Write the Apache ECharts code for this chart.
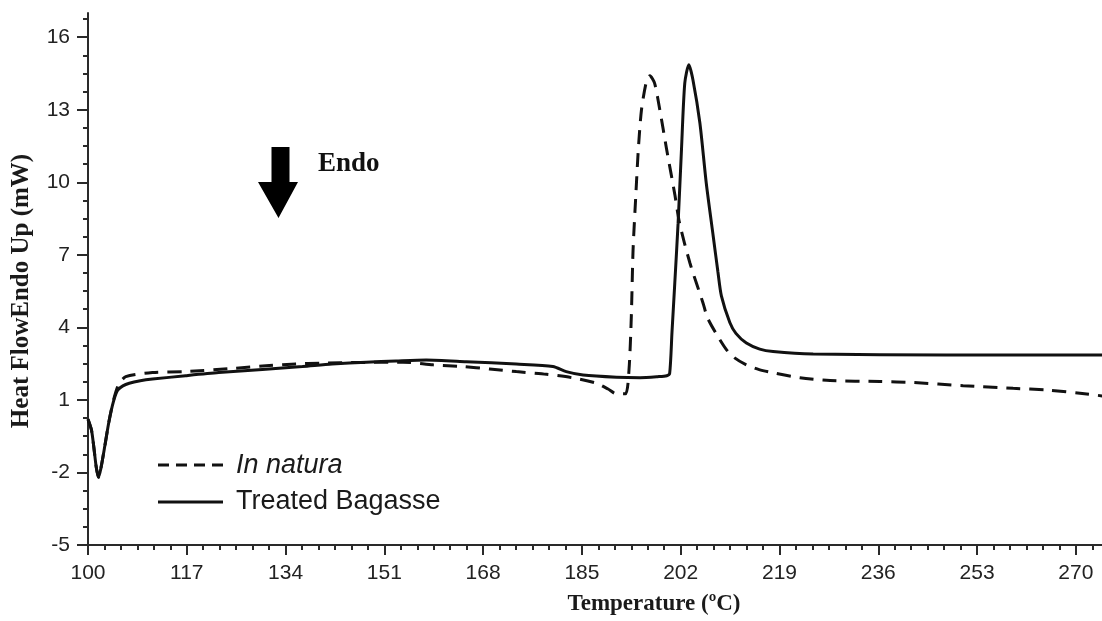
<!DOCTYPE html>
<html>
<head>
<meta charset="utf-8">
<script src="https://cdn.jsdelivr.net/npm/echarts@6/dist/echarts.min.js"></script>
<style>
  html, body { margin: 0; padding: 0; background: #ffffff; }
  #chart { width: 1102px; height: 621px; }
</style>
</head>
<body>
<div id="chart"></div>
<script>
// Axis ticks
const temperatureTicks = [100, 117, 134, 151, 168, 185, 202, 219, 236, 253, 270];
const heatFlowTicks = [-5, -2, 1, 4, 7, 10, 13, 16];

// Legend entries
const seriesNames = ['In natura', 'Treated Bagasse'];

// DSC curves: [temperature (ºC), heat flow (mW)]
const inNatura = [
  [100, 0.2], [100.6, -0.25], [101.0, -0.95], [101.4, -1.75], [101.8, -2.2], [102.2, -1.85],
  [102.9, -0.9], [103.6, 0.1], [104.4, 1.0], [105.2, 1.6], [106.5, 1.96], [111.1, 2.13],
  [116.8, 2.17], [125.4, 2.31], [131.2, 2.42], [135.75, 2.49], [139.9, 2.52], [147, 2.55],
  [154.2, 2.56], [159.4, 2.45], [164.5, 2.38], [169.1, 2.28], [173.7, 2.17], [178.9, 2.06],
  [183.2, 1.92], [187.5, 1.69], [189.5, 1.45], [190.95, 1.25], [192.5, 1.25], [193.1, 2.24],
  [193.5, 4.45], [193.8, 7.2], [194.3, 9.58], [194.7, 11.34], [195.25, 13.0], [196.1, 14.17],
  [196.7, 14.4], [197.5, 14.1], [198.4, 13.0], [199.55, 11.4], [200.98, 9.5], [201.8, 8.31],
  [203.6, 6.65], [205.85, 5.0], [206.6, 4.4], [208.2, 3.7], [209.8, 3.1], [211.2, 2.75],
  [213.3, 2.45], [215.5, 2.25], [217.9, 2.12], [222.5, 1.92], [227.7, 1.8], [236.3, 1.76],
  [242, 1.72], [250.6, 1.59], [259.2, 1.48], [265, 1.41], [270.7, 1.28], [275, 1.15]
];

const treatedBagasse = [
  [100, 0.2], [100.6, -0.25], [101.0, -0.95], [101.4, -1.75], [101.8, -2.2], [102.2, -1.85],
  [102.9, -0.9], [103.6, 0.1], [104.4, 0.95], [105.1, 1.4], [106, 1.58], [107.1, 1.69],
  [109, 1.79], [111.1, 1.86], [116.8, 2.0], [122.5, 2.13], [130, 2.26], [136.9, 2.38],
  [142, 2.48], [147.9, 2.56], [153, 2.61], [158.2, 2.65], [165.1, 2.58], [173.7, 2.48],
  [180.0, 2.38], [182.3, 2.17], [185.2, 2.03], [190.95, 1.94], [195, 1.92], [198, 1.96],
  [199.6, 2.0], [200.1, 2.1], [200.5, 3.8], [200.98, 5.83], [201.55, 8.31], [202.13, 11.34],
  [202.7, 14.1], [203.4, 14.86], [204.1, 14.24], [205.3, 12.45], [206.4, 9.96], [207.6, 7.76],
  [208.4, 6.3], [209.0, 5.3], [210.45, 4.2], [211.5, 3.75], [213.3, 3.35], [215.6, 3.1],
  [217.9, 3.0], [224.8, 2.9], [247.7, 2.86], [275, 2.86]
];

const X_MIN = 100, X_MAX = 274.5;
const Y_MIN = -5, Y_MAX = 17;

// minor ticks: 6 steps per major x interval, 4 per major y interval
function minorTicks(majors, steps, limit) {
  const out = [];
  const step = (majors[1] - majors[0]) / steps;
  majors.forEach(function (m) {
    for (let k = 1; k < steps; k++) {
      const v = m + k * step;
      if (v < limit) out.push(+v.toFixed(4));
    }
  });
  return out;
}
const xMinor = minorTicks(temperatureTicks, 6, X_MAX);
const yMinor = minorTicks(heatFlowTicks, 4, Y_MAX);

const INK = '#111111';
const AXIS = '#2a2a2a';
const SANS = '"Liberation Sans", Arial, sans-serif';
const SERIF = '"Liberation Serif", "Times New Roman", serif';
const CURVE_DASH = [14, 9];

const chart = echarts.init(document.getElementById('chart'), null, { renderer: 'canvas' });

function tickAxis(kind, min, max, values, len, withLine, withLabels) {
  return {
    type: 'value', min: min, max: max,
    position: kind === 'x' ? 'bottom' : 'left',
    axisLine: { show: withLine, onZero: false, lineStyle: { color: AXIS, width: 2 } },
    axisTick: { show: true, customValues: values, length: len, lineStyle: { color: AXIS, width: 2 } },
    axisLabel: {
      show: withLabels, customValues: values, margin: 18,
      fontSize: 21, fontFamily: SANS, color: '#222'
    },
    splitLine: { show: false }
  };
}

// legend drawn as line samples + labels at the lower left of the plot
const legendTop = 465, legendRow = 37, legendLeft = 158, legendSample = 65;
const legendGraphics = [];
seriesNames.forEach(function (name, i) {
  const y = legendTop + i * legendRow;
  legendGraphics.push({
    type: 'line',
    shape: { x1: legendLeft, y1: y, x2: legendLeft + legendSample, y2: y },
    style: { stroke: INK, lineWidth: 3, lineDash: i === 0 ? [11, 7] : null }
  });
  legendGraphics.push({
    type: 'text', x: legendLeft + legendSample + 13, y: y,
    style: {
      text: name, fill: '#1a1a1a', textVerticalAlign: 'middle',
      font: (i === 0 ? 'italic ' : '') + '27px ' + SANS
    }
  });
});

chart.setOption({
  backgroundColor: '#ffffff',
  animation: false,
  grid: { left: 88, top: 13, right: 0, bottom: 76, containLabel: false },
  xAxis: [
    tickAxis('x', X_MIN, X_MAX, temperatureTicks, 10, true, true),
    tickAxis('x', X_MIN, X_MAX, xMinor, 5, false, false)
  ],
  yAxis: [
    tickAxis('y', Y_MIN, Y_MAX, heatFlowTicks, 11, true, true),
    tickAxis('y', Y_MIN, Y_MAX, yMinor, 5, false, false)
  ],
  series: [
    {
      name: seriesNames[0],
      type: 'line',
      data: inNatura,
      xAxisIndex: 0, yAxisIndex: 0,
      showSymbol: false, symbol: 'none',
      smooth: 0.25,
      lineStyle: { color: INK, width: 3, type: CURVE_DASH },
      z: 2
    },
    {
      name: seriesNames[1],
      type: 'line',
      data: treatedBagasse,
      xAxisIndex: 0, yAxisIndex: 0,
      showSymbol: false, symbol: 'none',
      smooth: 0.25,
      lineStyle: { color: INK, width: 3, type: 'solid' },
      z: 3
    }
  ],
  graphic: legendGraphics.concat([
    {
      type: 'polygon',
      shape: { points: [[271.5, 147], [289.5, 147], [289.5, 182], [298, 182], [278.5, 218], [258, 182], [271.5, 182]] },
      style: { fill: '#000' }
    },
    {
      type: 'text', x: 318, y: 164,
      style: { text: 'Endo', font: 'bold 27px ' + SERIF, fill: '#111', textVerticalAlign: 'middle' }
    },
    {
      type: 'text', x: 22, y: 291, rotation: Math.PI / 2,
      style: { text: 'Heat FlowEndo Up (mW)', font: 'bold 25px ' + SERIF, fill: '#1a1a1a', textAlign: 'center', textVerticalAlign: 'middle' }
    },
    {
      type: 'text', x: 654, y: 604,
      style: { text: 'Temperature (ºC)', font: 'bold 23px ' + SERIF, fill: '#1a1a1a', textAlign: 'center', textVerticalAlign: 'middle' }
    }
  ])
});
</script>
</body>
</html>
